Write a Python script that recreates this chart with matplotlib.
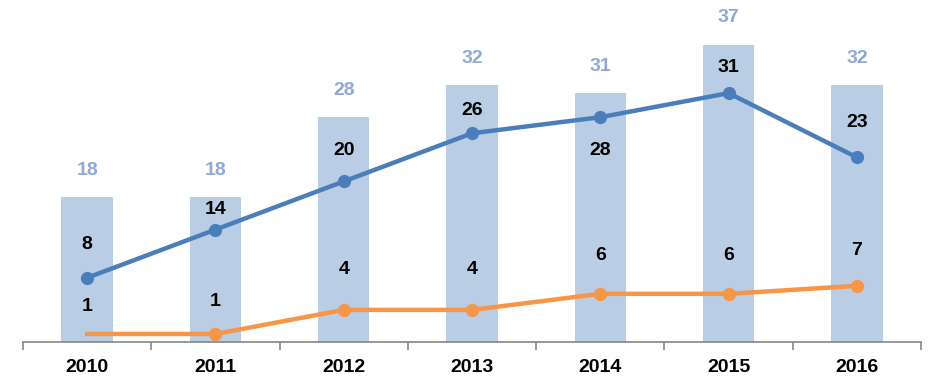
import matplotlib
matplotlib.use("Agg")
import matplotlib.pyplot as plt
import numpy as np

years = ["2010", "2011", "2012", "2013", "2014", "2015", "2016"]
totals = [18, 18, 28, 32, 31, 37, 32]
blue_series = [8, 14, 20, 26, 28, 31, 23]
orange_series = [1, 1, 4, 4, 6, 6, 7]

BAR_C = "#B9CDE5"
BAR_TXT = "#8EAAD4"
BLUE = "#4A7EBB"
ORANGE = "#F79646"

# label offsets in pixels (positive = above point)
blue_off = [33, 20, 31, 23, -33, 26, 35]
orange_off = [27, 32, 40, 40, 38, 38, 35]

plt.rcParams["font.family"] = ["Liberation Sans Narrow", "Liberation Sans", "DejaVu Sans"]

fig = plt.figure(figsize=(9.45, 3.92), dpi=100)
ax = fig.add_axes([23 / 945, 50 / 392, 898 / 945, 342 / 392])

x = np.arange(len(years))
ax.bar(x, totals, width=0.4, color=BAR_C, zorder=1)
ax.plot(x, blue_series, color=BLUE, lw=3.2, marker="o", ms=8.5, zorder=3)
ax.plot(x, orange_series, color=ORANGE, lw=3.2, zorder=3)
ax.plot(x[1:], orange_series[1:], color=ORANGE, lw=0, marker="o", ms=8.5, zorder=3)

font = dict(fontsize=14, fontweight="bold")
for xi, v in zip(x, totals):
    ax.annotate(str(v), (xi, v), xytext=(0, 27 * 0.72), textcoords="offset points",
                ha="center", va="center", color=BAR_TXT, **font)
for xi, v, o in zip(x, blue_series, blue_off):
    ax.annotate(str(v), (xi, v), xytext=(0, o * 0.72), textcoords="offset points",
                ha="center", va="center", color="black", **font)
for xi, v, o in zip(x, orange_series, orange_off):
    ax.annotate(str(v), (xi, v), xytext=(0, o * 0.72), textcoords="offset points",
                ha="center", va="center", color="black", **font)

ax.set_xlim(-0.5, len(years) - 0.5)
ax.set_ylim(0, 42.6)
ax.set_yticks([])
for s in ["top", "right", "left"]:
    ax.spines[s].set_visible(False)
ax.spines["bottom"].set_color("#868686")
ax.spines["bottom"].set_linewidth(1.2)

ax.set_xticks(x)
ax.set_xticklabels(years, fontsize=14, fontweight="bold")
ax.tick_params(axis="x", which="major", length=0, pad=12)
ax.set_xticks(np.arange(-0.5, len(years)), minor=True)
ax.tick_params(axis="x", which="minor", length=6, width=1.2, color="#868686", direction="out")

fig.savefig("out.png", dpi=100)
